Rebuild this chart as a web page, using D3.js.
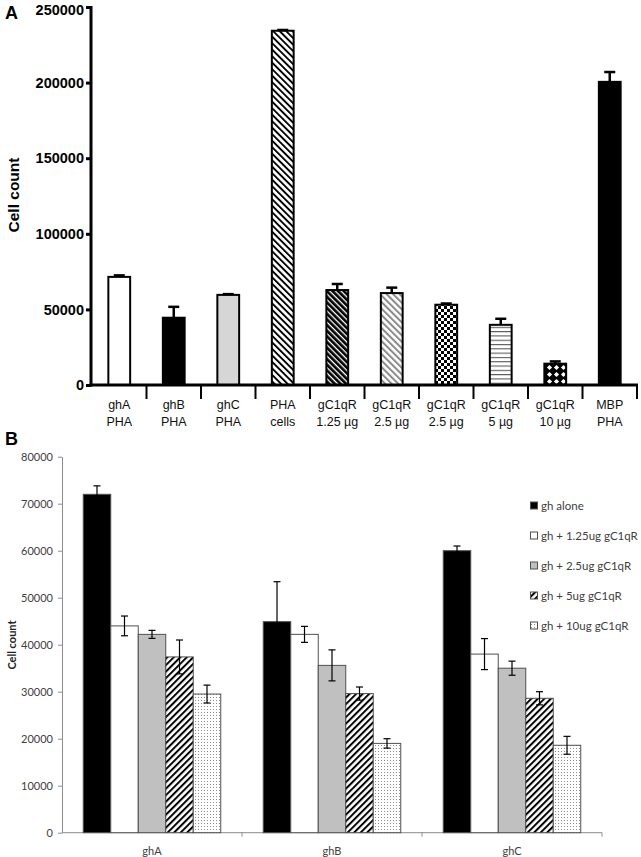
<!DOCTYPE html>
<html><head><meta charset="utf-8">
<script src="https://cdn.jsdelivr.net/npm/d3@7"></script>
<style>body{margin:0;background:#fff}svg{display:block}</style>
</head><body>
<svg id="c" width="641" height="857"></svg>
<script>
// ---------- Panel A data ----------
const catIdsA = ["ghA","ghB","ghC","PHA","g125","g25a","g25b","g5","g10","MBP"];
const catLine1A = ["ghA","ghB","ghC","PHA","gC1qR","gC1qR","gC1qR","gC1qR","gC1qR","MBP"];
const catLine2A = ["PHA","PHA","PHA","cells","1.25 \u00b5g","2.5 \u00b5g","2.5 \u00b5g","5 \u00b5g","10 \u00b5g","PHA"];
const valuesA = [71500,44500,59600,234300,62800,60800,53100,39800,14100,200500];
const errorsA = [1000,7200,500,500,4000,3600,800,4000,1500,6500];
const fillsA = ["white","black","solidgray","phaHatch","denseHatch","grayHatch","checker","hlines","diamond","black"];
const ticksA = [0,50000,100000,150000,200000,250000];

// ---------- Panel B data ----------
const groupsB = ["ghA","ghB","ghC"];
const seriesB = ["gh alone","gh + 1.25ug gC1qR","gh + 2.5ug gC1qR","gh + 5ug gC1qR","gh + 10ug gC1qR"];
const valuesB = [
  [72000,44000,42200,37400,29500],
  [44900,42200,35600,29600,19000],
  [60000,38000,35000,28600,18600]
];
const errorsB = [
  [1800,2100,850,3600,1900],
  [8500,1700,3300,1400,1000],
  [1000,3300,1500,1400,1900]
];
const fillsB = ["black","white","gray","fwdHatch","dots"];
const ticksB = [0,10000,20000,30000,40000,50000,60000,70000,80000];

const svg = d3.select("#c");
const defs = svg.append("defs");
function linePat(id, w, angle, color, lw){
  const p = defs.append("pattern").attr("id",id).attr("patternUnits","userSpaceOnUse")
    .attr("width",w).attr("height",w).attr("patternTransform","rotate("+angle+")");
  p.append("rect").attr("width",w).attr("height",w).attr("fill","white");
  p.append("rect").attr("x",0).attr("y",0).attr("width",lw).attr("height",w).attr("fill",color);
}
linePat("phaHatch",4.6,-45,"black",1.9);
linePat("denseHatch",4.0,-45,"black",2.7);
linePat("grayHatch",4.6,-45,"#8a8a8a",2.0);
linePat("fwdHatch",4.6,45,"black",2.0);
(function(){
  const p = defs.append("pattern").attr("id","checker").attr("patternUnits","userSpaceOnUse").attr("width",6).attr("height",6);
  p.append("rect").attr("width",6).attr("height",6).attr("fill","white");
  p.append("rect").attr("width",3).attr("height",3).attr("fill","black");
  p.append("rect").attr("x",3).attr("y",3).attr("width",3).attr("height",3).attr("fill","black");
  const h = defs.append("pattern").attr("id","hlines").attr("patternUnits","userSpaceOnUse").attr("width",6).attr("height",4.3);
  h.append("rect").attr("width",6).attr("height",4.3).attr("fill","white");
  h.append("rect").attr("y",0).attr("width",6).attr("height",1.1).attr("fill","#5a5a5a");
  const d = defs.append("pattern").attr("id","diamond").attr("patternUnits","userSpaceOnUse").attr("width",7).attr("height",7);
  d.append("rect").attr("width",7).attr("height",7).attr("fill","black");
  d.append("path").attr("d","M3.5,0.9 L6.1,3.5 L3.5,6.1 L0.9,3.5Z").attr("fill","white");
  const s = defs.append("pattern").attr("id","dots").attr("patternUnits","userSpaceOnUse").attr("width",3).attr("height",3);
  s.append("rect").attr("width",3).attr("height",3).attr("fill","white");
  s.append("rect").attr("x",1).attr("y",1).attr("width",1).attr("height",1).attr("fill","#8c8c8c");
})();
function fillOf(k){
  if(k==="white") return "white";
  if(k==="black") return "black";
  if(k==="solidgray") return "#d6d6d6";
  if(k==="gray") return "#c0c0c0";
  return "url(#"+k+")";
}

// ================= Panel A =================
const fA = "'Liberation Sans', Arial, sans-serif";
const yA = d3.scaleLinear().domain([0,250000]).range([385,7]);
const xA = d3.scaleBand().domain(catIdsA).range([92,637]).paddingInner(0.6).paddingOuter(0.3);
const gA = svg.append("g");

gA.append("text").attr("x",5).attr("y",19).attr("font-family",fA).attr("font-weight","bold")
  .attr("font-size",18).text("A");

gA.selectAll("rect.bar").data(valuesA).join("rect")
  .attr("x",(d,i)=>xA(catIdsA[i])).attr("width",xA.bandwidth())
  .attr("y",d=>yA(d)).attr("height",d=>yA(0)-yA(d))
  .attr("fill",(d,i)=>fillOf(fillsA[i])).attr("stroke","black").attr("stroke-width",2);
const eA = gA.selectAll("g.err").data(valuesA).join("g");
eA.append("line").attr("x1",(d,i)=>xA(catIdsA[i])+xA.bandwidth()/2).attr("x2",(d,i)=>xA(catIdsA[i])+xA.bandwidth()/2)
  .attr("y1",d=>yA(d)).attr("y2",(d,i)=>yA(d+errorsA[i])).attr("stroke","black").attr("stroke-width",2.5);
eA.append("line").attr("x1",(d,i)=>xA(catIdsA[i])+xA.bandwidth()/2-5.5).attr("x2",(d,i)=>xA(catIdsA[i])+xA.bandwidth()/2+5.5)
  .attr("y1",(d,i)=>yA(d+errorsA[i])).attr("y2",(d,i)=>yA(d+errorsA[i])).attr("stroke","black").attr("stroke-width",2.5);

const axA = gA.append("g").attr("transform","translate(91,0)")
  .call(d3.axisLeft(yA).tickValues(ticksA).tickFormat(d3.format("d")).tickSize(5).tickSizeOuter(0).tickPadding(2));
axA.select(".domain").attr("stroke-width",3).attr("d","M0,6V386.5");
axA.selectAll(".tick line").attr("stroke-width",3);
axA.selectAll(".tick text").attr("font-family",fA).attr("font-weight","bold").attr("font-size",14.5)
  .attr("fill","black").attr("dy",(d)=>d===250000?"0.5em":"0.32em");

const step = xA.step();
gA.append("line").attr("x1",89.5).attr("x2",638).attr("y1",385).attr("y2",385).attr("stroke","black").attr("stroke-width",3);
gA.selectAll("line.xt").data(catIdsA).join("line")
  .attr("x1",(d)=>xA(d)-xA.paddingOuter()*step+step).attr("x2",(d)=>xA(d)-xA.paddingOuter()*step+step)
  .attr("y1",385).attr("y2",399).attr("stroke","black").attr("stroke-width",2);
const lblA = gA.selectAll("text.cat").data(catIdsA).join("text")
  .attr("font-family",fA).attr("font-size",12.5).attr("text-anchor","middle").attr("fill","#111");
lblA.append("tspan").attr("x",d=>xA(d)+xA.bandwidth()/2).attr("y",409).text((d,i)=>catLine1A[i]);
lblA.append("tspan").attr("x",d=>xA(d)+xA.bandwidth()/2).attr("y",426).text((d,i)=>catLine2A[i]);
gA.append("text").attr("transform","translate(19,195) rotate(-90)").attr("text-anchor","middle")
  .attr("font-family",fA).attr("font-weight","bold").attr("font-size",15.5).text("Cell count");

// ================= Panel B =================
const fB = "Lato, 'Open Sans', sans-serif";
const yB = d3.scaleLinear().domain([0,80000]).range([832.7,456.7]);
const xB = d3.scaleBand().domain(groupsB).range([62,602]);
const xsB = d3.scaleBand().domain(seriesB).range([0,xB.bandwidth()]).paddingOuter(0.773);
const gB = svg.append("g");
gB.append("text").attr("x",5).attr("y",445).attr("font-family",fA).attr("font-weight","bold")
  .attr("font-size",18).text("B");

const axB = gB.append("g").attr("transform","translate(62,0)")
  .call(d3.axisLeft(yB).tickValues(ticksB).tickFormat(d3.format("d")).tickSize(4).tickSizeOuter(0).tickPadding(5));
axB.select(".domain").attr("stroke","#8c8c8c");
axB.selectAll(".tick line").attr("stroke","#8c8c8c");
axB.selectAll(".tick text").attr("font-family",fB).attr("font-size",11).attr("fill","#404040");

gB.append("line").attr("x1",62).attr("x2",602).attr("y1",yB(0)).attr("y2",yB(0)).attr("stroke","#8c8c8c");
gB.selectAll("line.xt").data(groupsB).join("line")
  .attr("x1",d=>xB(d)+xB.bandwidth()).attr("x2",d=>xB(d)+xB.bandwidth())
  .attr("y1",yB(0)).attr("y2",yB(0)+4).attr("stroke","#8c8c8c");
gB.selectAll("text.grp").data(groupsB).join("text")
  .attr("x",d=>xB(d)+xB.bandwidth()/2).attr("y",855).attr("text-anchor","middle")
  .attr("font-family",fB).attr("font-size",11).attr("fill","#404040").text(d=>d);

groupsB.forEach((g,gi)=>{
  const gg = gB.append("g").attr("transform","translate("+xB(g)+",0)");
  gg.selectAll("rect").data(valuesB[gi]).join("rect")
    .attr("x",(d,i)=>xsB(seriesB[i])).attr("width",xsB.bandwidth())
    .attr("y",d=>yB(d)).attr("height",d=>yB(0)-yB(d))
    .attr("fill",(d,i)=>fillOf(fillsB[i])).attr("stroke","#505050").attr("stroke-width",1);
  const e = gg.selectAll("g.e").data(valuesB[gi]).join("g");
  const cx = (i)=>xsB(seriesB[i])+xsB.bandwidth()/2;
  e.append("line").attr("x1",(d,i)=>cx(i)).attr("x2",(d,i)=>cx(i))
    .attr("y1",(d,i)=>yB(d-errorsB[gi][i])).attr("y2",(d,i)=>yB(d+errorsB[gi][i])).attr("stroke","#000").attr("stroke-width",1.2);
  e.append("line").attr("x1",(d,i)=>cx(i)-3.5).attr("x2",(d,i)=>cx(i)+3.5)
    .attr("y1",(d,i)=>yB(d+errorsB[gi][i])).attr("y2",(d,i)=>yB(d+errorsB[gi][i])).attr("stroke","#000").attr("stroke-width",1.2);
  e.append("line").attr("x1",(d,i)=>cx(i)-3.5).attr("x2",(d,i)=>cx(i)+3.5)
    .attr("y1",(d,i)=>yB(d-errorsB[gi][i])).attr("y2",(d,i)=>yB(d-errorsB[gi][i])).attr("stroke","#000").attr("stroke-width",1.2);
});

gB.append("text").attr("transform","translate(16,645) rotate(-90)").attr("text-anchor","middle")
  .attr("font-family",fB).attr("font-weight","bold").attr("font-size",11).attr("fill","#222").text("Cell count");

const lg = gB.selectAll("g.lg").data(seriesB).join("g").attr("transform",(d,i)=>"translate(530,"+(506+i*30)+")");
lg.append("rect").attr("x",0.5).attr("y",-4).attr("width",7).attr("height",7)
  .attr("fill",(d,i)=>fillOf(fillsB[i])).attr("stroke","#505050").attr("stroke-width",1);
lg.append("text").attr("x",11).attr("y",4).attr("font-family",fB).attr("font-size",11.5).attr("fill","#404040").text(d=>d);
</script>
</body></html>
